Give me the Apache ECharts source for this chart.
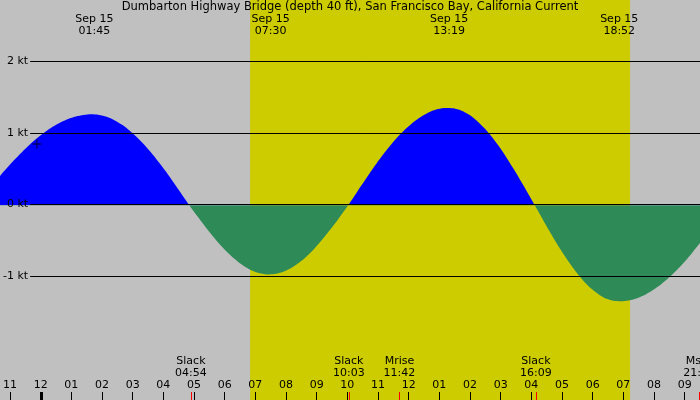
<!DOCTYPE html>
<html><head><meta charset="utf-8">
<script src="https://cdn.jsdelivr.net/npm/echarts@6/dist/echarts.min.js"></script>
<style>html,body{margin:0;padding:0;background:#c0c0c0}#c{width:700px;height:400px}</style>
</head><body><div id="c"></div>
<script>
const titleText = 'Dumbarton Highway Bridge (depth 40 ft), San Francisco Bay, California Current';
// hours relative to midnight Sep 15, current speed in knots (+ flood, - ebb)
const flowHours = [-1.5,-1.25,-1,-0.75,-0.5,-0.25,0,0.25,0.5,0.75,1,1.25,1.5,1.75,2,2.25,2.5,2.75,3,3.25,3.5,3.75,4,4.25,4.5,4.75,5,5.25,5.5,5.75,6,6.25,6.5,6.75,7,7.25,7.5,7.75,8,8.25,8.5,8.75,9,9.25,9.5,9.75,10,10.25,10.5,10.75,11,11.25,11.5,11.75,12,12.25,12.5,12.75,13,13.25,13.5,13.75,14,14.25,14.5,14.75,15,15.25,15.5,15.75,16,16.25,16.5,16.75,17,17.25,17.5,17.75,18,18.25,18.5,18.75,19,19.25,19.5,19.75,20,20.25,20.5,20.75,21,21.25,21.5,21.75];
const flowKnots = [0.262,0.390,0.513,0.631,0.741,0.844,0.938,1.022,1.095,1.155,1.204,1.239,1.261,1.270,1.262,1.235,1.189,1.124,1.042,0.944,0.831,0.705,0.568,0.423,0.270,0.114,-0.041,-0.185,-0.326,-0.459,-0.581,-0.691,-0.784,-0.860,-0.916,-0.951,-0.965,-0.956,-0.925,-0.872,-0.799,-0.707,-0.598,-0.475,-0.342,-0.200,-0.053,0.105,0.269,0.428,0.581,0.725,0.859,0.980,1.087,1.178,1.251,1.307,1.343,1.359,1.354,1.323,1.266,1.184,1.079,0.954,0.809,0.648,0.476,0.294,0.106,-0.084,-0.275,-0.459,-0.634,-0.796,-0.942,-1.069,-1.173,-1.254,-1.309,-1.336,-1.338,-1.322,-1.289,-1.241,-1.177,-1.099,-1.006,-0.902,-0.787,-0.661,-0.527,-0.388];
const hourTicks = [-1,0,1,2,3,4,5,6,7,8,9,10,11,12,13,14,15,16,17,18,19,20,21];
const dayBreaks = [0];
const peakHours = [1.75, 7.5, 13.3167, 18.8667];
const peakDates = ['Sep 15','Sep 15','Sep 15','Sep 15'];
const peakTimes = ['01:45','07:30','13:19','18:52'];
const eventHours = [4.9, 10.05, 11.7, 16.15, 21.4667];
const eventNames = ['Slack','Slack','Mrise','Slack','Mset'];
const eventTimes = ['04:54','10:03','11:42','16:09','21:28'];
const sunHours = [6.83, 19.22];
const knotTicks = [-1, 0, 1, 2];
const markerPoint = [-0.123, 0.856];

const FONT = 'DejaVu Sans';
const xMin = -1.21, xMax = 21.5;
const yTop = 2.866, yBottom = -2.718;
const zeroPx = 205.3;

function hourLabel(h) {
  let m = ((h % 12) + 12) % 12;
  if (m === 0) m = 12;
  return String(m).padStart(2, '0');
}
const flowData = flowHours.map((h, i) => [h, flowKnots[i]]);

const chart = echarts.init(document.getElementById('c'), null, {renderer: 'canvas'});
chart.setOption({
  backgroundColor: '#c0c0c0',
  animation: false,
  title: {
    text: titleText, left: 'center', top: 1, padding: 0,
    textStyle: {fontFamily: FONT, fontSize: 11.5, fontWeight: 'normal', color: '#000'}
  },
  grid: [
    {left: 0, right: 0, top: 0, bottom: 0},
    {left: 30, right: 0, top: 61.3, bottom: 123.8},
    {left: 0, right: 0, top: 0, bottom: 400 - zeroPx},
    {left: 0, right: 0, top: zeroPx, bottom: 0}
  ],
  xAxis: [
    {
      type: 'value', gridIndex: 0, min: xMin, max: xMax, position: 'bottom', z: 10,
      axisLine: {show: false, onZero: false},
      splitLine: {show: false},
      axisTick: {customValues: hourTicks, inside: true, length: 8, lineStyle: {color: '#000', width: 1}},
      axisLabel: {customValues: hourTicks, inside: true, margin: 9, formatter: hourLabel,
        color: '#000', fontFamily: FONT, fontSize: 11}
    },
    {type: 'value', gridIndex: 1, min: xMin, max: xMax, show: false},
    {type: 'value', gridIndex: 2, min: xMin, max: xMax, show: false},
    {type: 'value', gridIndex: 3, min: xMin, max: xMax, show: false}
  ],
  yAxis: [
    {type: 'value', gridIndex: 0, min: yBottom, max: yTop, show: false},
    {
      type: 'value', gridIndex: 1, min: -1, max: 2, interval: 1, z: 10,
      axisLine: {show: false}, axisTick: {show: false},
      splitLine: {show: true, lineStyle: {color: '#000', width: 1}},
      axisLabel: {customValues: knotTicks, formatter: v => v + ' kt', margin: 2, color: '#000', fontFamily: FONT, fontSize: 11}
    },
    {type: 'value', gridIndex: 2, min: 0, max: yTop, show: false},
    {type: 'value', gridIndex: 3, min: yBottom, max: 0, show: false}
  ],
  series: [
    {
      name: 'sun', type: 'line', data: [], xAxisIndex: 0, yAxisIndex: 0, z: 1,
      markArea: {silent: true, itemStyle: {color: '#cccc00'},
        data: [[{xAxis: sunHours[0]}, {xAxis: sunHours[1]}]]}
    },
    {
      name: 'flood', type: 'line', xAxisIndex: 2, yAxisIndex: 2, z: 2,
      data: flowData, smooth: 0.3, symbol: 'none', clip: true,
      lineStyle: {width: 0, color: '#0000ff'},
      areaStyle: {opacity: 1, origin: 0, color: '#0000ff'}
    },
    {
      name: 'ebb', type: 'line', xAxisIndex: 3, yAxisIndex: 3, z: 2,
      data: flowData, smooth: 0.3, symbol: 'none', clip: true,
      lineStyle: {width: 0, color: '#2e8b57'},
      areaStyle: {opacity: 1, origin: 0, color: '#2e8b57'}
    },
    {
      name: 'eventTicks', type: 'custom', xAxisIndex: 0, yAxisIndex: 0, z: 5,
      data: eventHours.map(h => [h, 0]),
      renderItem: (params, api) => {
        const x = Math.round(api.coord([api.value(0), 0])[0]) + 0.5;
        const b = params.coordSys.y + params.coordSys.height;
        return {type: 'line', shape: {x1: x, y1: b - 8, x2: x, y2: b}, style: {stroke: '#ff0000', lineWidth: 1}};
      }
    },
    {
      name: 'dayTicks', type: 'custom', xAxisIndex: 0, yAxisIndex: 0, z: 11,
      data: dayBreaks.map(h => [h, 0]),
      renderItem: (params, api) => {
        const x = Math.round(api.coord([api.value(0), 0])[0]) + 0.5;
        const b = params.coordSys.y + params.coordSys.height;
        return {type: 'line', shape: {x1: x, y1: b - 8, x2: x, y2: b}, style: {stroke: '#000', lineWidth: 3}};
      }
    },
    {
      name: 'peakLabels', type: 'custom', xAxisIndex: 0, yAxisIndex: 0, z: 6,
      data: peakHours.map((h, i) => [h, 0, i]),
      renderItem: (params, api) => {
        const i = api.value(2);
        const x = api.coord([api.value(0), 0])[0];
        return {type: 'group', children: [
          {type: 'text', x: x, y: 19.5, style: {text: peakDates[i], align: 'center', verticalAlign: 'middle', fill: '#000', font: '11px "DejaVu Sans"'}},
          {type: 'text', x: x, y: 31.5, style: {text: peakTimes[i], align: 'center', verticalAlign: 'middle', fill: '#000', font: '11px "DejaVu Sans"'}}
        ]};
      }
    },
    {
      name: 'eventLabels', type: 'custom', xAxisIndex: 0, yAxisIndex: 0, z: 6,
      data: eventHours.map((h, i) => [h, 0, i]),
      renderItem: (params, api) => {
        const i = api.value(2);
        const x = api.coord([api.value(0), 0])[0];
        return {type: 'group', children: [
          {type: 'text', x: x, y: 361.5, style: {text: eventNames[i], align: 'center', verticalAlign: 'middle', fill: '#000', font: '11px "DejaVu Sans"'}},
          {type: 'text', x: x, y: 373.5, style: {text: eventTimes[i], align: 'center', verticalAlign: 'middle', fill: '#000', font: '11px "DejaVu Sans"'}}
        ]};
      }
    },
    {
      name: 'marker', type: 'scatter', xAxisIndex: 0, yAxisIndex: 0, z: 12,
      data: [markerPoint],
      symbol: 'path://M4,0H5V4H9V5H5V9H4V5H0V4H4Z', symbolSize: 9,
      itemStyle: {color: '#000'}
    }
  ]
});
</script>
</body></html>
